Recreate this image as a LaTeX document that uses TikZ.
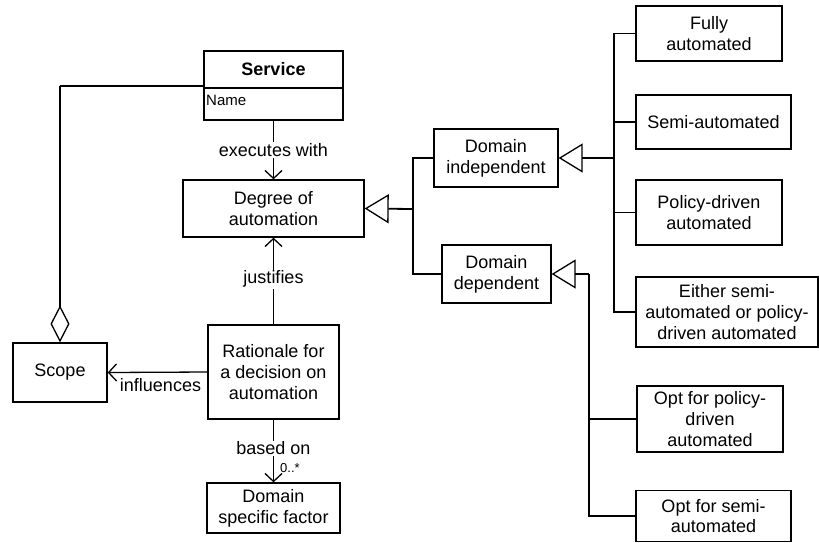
\documentclass[tikz,border=0pt]{standalone}
\usepackage{fontspec}
\setmainfont{Liberation Sans}
\usetikzlibrary{arrows.meta}
\begin{document}
\begin{tikzpicture}[x=1pt,y=-1pt,
  every node/.style={font=\fontsize{18}{20.7}\selectfont},
  box/.style={draw,line width=1.3pt,inner sep=0pt,align=center},
  conn/.style={line width=1.3pt},
  assoc/.style={conn,-{Straight Barb[length=8pt,width=17pt,line width=1.3pt]}},
  gen/.style={line width=1.8pt,-{Triangle[open,length=24pt,width=29pt,line width=1.3pt]}},
  agg/.style={conn,-{Diamond[open,length=37pt,width=19pt,line width=1.3pt]}},
  lbl/.style={fill=white,inner sep=1pt}]
\useasboundingbox (0,0) rectangle (819,542);

% classes
\node[box,minimum width=139pt,minimum height=69pt] (svc) at (273.5,85.5) {};
\draw[conn] (204,88) -- (343,88);
\node[font=\fontsize{18}{20.7}\selectfont\bfseries] (svct) at (273.5,69.5) {Service};
\node[font=\fontsize{15}{18}\selectfont,anchor=west,inner sep=0pt] (svca) at (206,100) {Name};

\node[box,minimum width=181pt,minimum height=57pt] (doa) at (273.5,208.5) {Degree of\\automation};
\node[box,minimum width=131pt,minimum height=94pt] (rat) at (273.5,372) {Rationale for\\a decision on\\automation};
\node[box,minimum width=133pt,minimum height=50pt] (dsf) at (273.5,508) {Domain\\specific factor};
\node[box,minimum width=94pt,minimum height=59pt] (scope) at (60,372.5) {Scope};

\node[box,minimum width=124pt,minimum height=58pt] (dind) at (496,158) {Domain\\independent};
\node[box,minimum width=109pt,minimum height=58pt] (ddep) at (496.5,274) {Domain\\dependent};

\node[box,minimum width=146pt,minimum height=55pt] (fully) at (709,33.5) {Fully\\automated};
\node[box,minimum width=155pt,minimum height=54pt] (semi) at (713.5,122) {Semi-automated};
\node[box,minimum width=146pt,minimum height=65pt] (pol) at (709,212.5) {Policy-driven\\automated};
\node[box,minimum width=182pt,minimum height=70pt] (either) at (727,312) {Either semi-\\automated or policy-\\driven automated};
\node[box,minimum width=146pt,minimum height=66pt] (optpol) at (710,419) {Opt for policy-\\driven\\automated};
\node[box,minimum width=155pt,minimum height=51pt] (optsemi) at (713.5,516) {Opt for semi-\\automated};

% associations
\draw[assoc] (svc.south) -- node[lbl] {executes with} (doa.north);
\draw[assoc] (rat.north) -- node[lbl,pos=0.52] {justifies} (doa.south);
\draw[assoc] (rat.south) -- node[lbl,pos=0.46] {based on} (dsf.north);
\node[font=\fontsize{13}{15}\selectfont,anchor=west,inner sep=0pt] (mult) at (280,468) {0..*};
\draw[assoc] (rat.west) -- (scope.east);
\node[inner sep=0pt] (infl) at (160.5,385) {influences};

% aggregation
\coordinate (agc) at (60,86);
\draw[conn] (svc.west |- agc) -- (agc);
\draw[agg] (agc) -- (scope.north);

% generalisations
\coordinate (j1) at (413,209);
\draw[gen] (j1) -- (doa.east);
\draw[conn] (dind.west) -| (j1);
\draw[conn] (ddep.west) -| (j1);

\coordinate (j2) at (614,158);
\draw[gen] (j2) -- (dind.east);
\draw[conn] (fully.west) -| (j2);
\draw[conn] (semi.west) -| (j2);
\draw[conn] (pol.west) -| (j2);
\draw[conn] (either.west) -| (j2);

\coordinate (j3) at (589,274);
\draw[gen] (j3) -- (ddep.east);
\draw[conn] (optpol.west) -| (j3);
\draw[conn] (optsemi.west) -| (j3);
\end{tikzpicture}
\end{document}
